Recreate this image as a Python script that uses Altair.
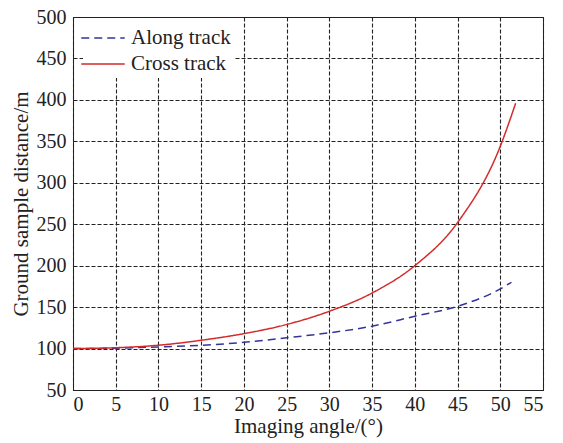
import altair as alt
import pandas as pd

along_angle = [0, 5, 10, 15, 20, 25, 30, 35, 40, 45, 50, 51.3]
along_gsd = [100, 100.5, 102, 104, 107.5, 113, 119, 127, 139, 151, 172, 180]
cross_angle = [0, 5, 10, 15, 20, 25, 30, 35, 40, 45, 50, 51.8]
cross_gsd = [100, 101, 104, 110, 118, 129, 145, 167, 200, 252, 344, 396]
series = ["Along track", "Cross track"]
x_ticks = list(range(0, 56, 5))
y_ticks = list(range(50, 501, 50))

rows = []
for a, g in zip(along_angle, along_gsd):
    rows.append({"angle": a, "gsd": g, "series": series[0]})
for a, g in zip(cross_angle, cross_gsd):
    rows.append({"angle": a, "gsd": g, "series": series[1]})
df = pd.DataFrame(rows)

FONT = "Liberation Serif"
TXT = "#222222"

chart = alt.Chart(df).mark_line(strokeWidth=1.5, interpolate="monotone").encode(
    x=alt.X("angle:Q", scale=alt.Scale(domain=[0, 55], nice=False),
            axis=alt.Axis(values=x_ticks, title="Imaging angle/(°)", labelPadding=4,
                          titlePadding=1)),
    y=alt.Y("gsd:Q", scale=alt.Scale(domain=[50, 500], nice=False, zero=False),
            axis=alt.Axis(values=y_ticks, title="Ground sample distance/m", labelPadding=7,
                          titlePadding=5)),
    color=alt.Color("series:N", scale=alt.Scale(domain=series, range=["#34349a", "#d42a2a"]),
                    legend=alt.Legend(title=None, orient="none", legendX=10, legendY=1,
                                      fillColor="white", padding=4,
                                      symbolType="M-1.45,0H1.45",
                                      symbolSize=900, symbolStrokeWidth=1.5,
                                      symbolFillColor="transparent",
                                      labelFont=FONT, labelFontSize=21, labelColor=TXT,
                                      rowPadding=0, labelOffset=12)),
    strokeDash=alt.StrokeDash("series:N", scale=alt.Scale(domain=series, range=[[8, 5], [1, 0]]),
                              legend=None),
).properties(
    width=470, height=373,
    autosize=alt.AutoSizeParams(type="none"),
    padding={"left": 65, "top": 9, "right": 12, "bottom": 52},
).configure_axis(
    grid=True, gridColor="#222222", gridDash=[4, 2], gridWidth=1.1, gridOpacity=1,
    ticks=False, domainColor="#222222", domainWidth=1,
    labelFont=FONT, labelFontSize=20, labelColor=TXT,
    titleFont=FONT, titleFontSize=21, titleColor=TXT, titleFontWeight="normal",
).configure_view(stroke="#222222", strokeWidth=1)

chart.save("out.html", embed_options={"renderer": "svg", "actions": False})
